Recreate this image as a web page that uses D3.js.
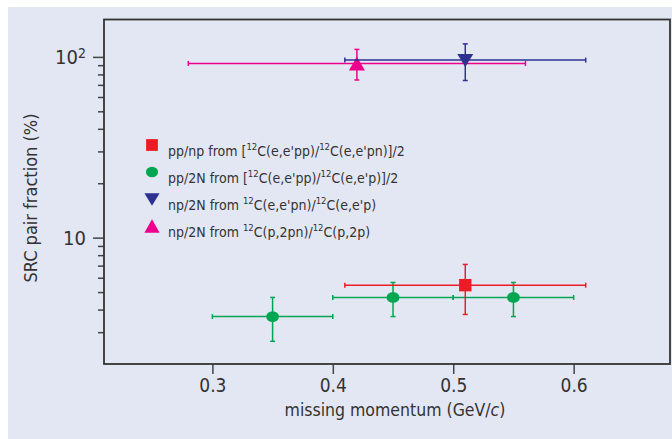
<!DOCTYPE html>
<html>
<head>
<meta charset="utf-8">
<script src="https://cdn.jsdelivr.net/npm/d3@7"></script>
<style>
  body { margin: 0; background: #fff; }
  svg text { font-family: "Liberation Sans Narrow", "DejaVu Sans Condensed", "Liberation Sans", sans-serif; fill: #333; }
</style>
</head>
<body>
<div id="chart"></div>
<script>
// each point: x, y, horizontal range, vertical range
const ppnp = [
    { x: 0.51, y: 5.46, xLo: 0.41, xHi: 0.61, yLo: 3.76, yHi: 7.11 }
];
const pp2n = [
    { x: 0.35, y: 3.66, xLo: 0.30, xHi: 0.40, yLo: 2.67, yHi: 4.67 },
    { x: 0.45, y: 4.67, xLo: 0.40, xHi: 0.50, yLo: 3.66, yHi: 5.65 },
    { x: 0.55, y: 4.67, xLo: 0.50, xHi: 0.60, yLo: 3.66, yHi: 5.65 }
];
const np2nE = [
    { x: 0.51, y: 96, xLo: 0.41, xHi: 0.61, yLo: 74, yHi: 118 }
];
const np2nP = [
    { x: 0.42, y: 92, xLo: 0.28, xHi: 0.56, yLo: 74.5, yHi: 110 }
];

const xTicks = [0.3, 0.4, 0.5, 0.6];
const yMajor = [10, 100];

// legend rows: text pieces, sup = superscript
const legendRows = [
    [["pp/np from [", 0], ["12", 1], ["C(e,e'pp)/", 0], ["12", 1], ["C(e,e'pn)]/2", 0]],
    [["pp/2N from [", 0], ["12", 1], ["C(e,e'pp)/", 0], ["12", 1], ["C(e,e'p)]/2", 0]],
    [["np/2N from ", 0], ["12", 1], ["C(e,e'pn)/", 0], ["12", 1], ["C(e,e'p)", 0]],
    [["np/2N from ", 0], ["12", 1], ["C(p,2pn)/", 0], ["12", 1], ["C(p,2p)", 0]]
];

const width = 672,
      height = 439,
      margin = ({ top: 19.5, right: 2, bottom: 75, left: 104 });

const svg = d3.select("#chart")
    .append("svg")
    .attr("width", width)
    .attr("height", height);

// panel background
svg.append("rect")
    .attr("x", 8).attr("y", 7)
    .attr("width", width - 8).attr("height", height - 7)
    .attr("fill", "#e3e7f3");

const x = d3.scaleLinear()
    .domain([0.21, 0.68])
    .range([margin.left, width - margin.right]);

const y = d3.scaleLog()
    .domain([2, 161])
    .range([height - margin.bottom, margin.top]);

// x axis
const xAxis = svg.append("g")
    .attr("transform", `translate(0,${height - margin.bottom})`)
    .call(d3.axisBottom(x).tickValues(xTicks).tickSize(10).tickPadding(5).tickFormat(d3.format(".1f")));
xAxis.select(".domain").remove();
xAxis.selectAll("line").attr("stroke", "#444").attr("stroke-width", 1.5);
xAxis.selectAll("text").attr("font-size", 19).attr("fill", "#333");

// y axis minor + major ticks
const minor = y.ticks().filter(d => yMajor.indexOf(d) < 0 && d > 2);
const yMinor = svg.append("g")
    .attr("transform", `translate(${margin.left},0)`)
    .call(d3.axisLeft(y).tickValues(minor).tickSize(6).tickFormat(""));
yMinor.select(".domain").remove();
yMinor.selectAll("line").attr("stroke", "#444").attr("stroke-width", 1.5);

const yAx = svg.append("g")
    .attr("transform", `translate(${margin.left},0)`)
    .call(d3.axisLeft(y).tickValues(yMajor).tickSize(11).tickPadding(7).tickFormat(""));
yAx.select(".domain").remove();
yAx.selectAll("line").attr("stroke", "#444").attr("stroke-width", 1.5);

yAx.selectAll(".tick").append("text")
    .attr("x", -18)
    .attr("dy", "0.35em")
    .attr("text-anchor", "end")
    .attr("font-size", 20)
    .attr("fill", "#333")
    .each(function (d) {
        const t = d3.select(this);
        const p = Math.round(Math.log10(d));
        if (p === 1) {
            t.text("10");
        } else {
            t.append("tspan").text("10");
            t.append("tspan").attr("dy", "-0.45em").attr("font-size", 14).text(p);
        }
    });

// frame
svg.append("rect")
    .attr("x", margin.left).attr("y", margin.top)
    .attr("width", width - margin.right - margin.left)
    .attr("height", height - margin.bottom - margin.top)
    .attr("fill", "none")
    .attr("stroke", "#333")
    .attr("stroke-width", 1.8);

// axis titles
svg.append("text")
    .attr("x", 395).attr("y", 416)
    .attr("text-anchor", "middle")
    .attr("font-size", 17.5)
    .call(t => {
        t.append("tspan").text("missing momentum (GeV/");
        t.append("tspan").attr("font-style", "italic").text("c");
        t.append("tspan").text(")");
    });

svg.append("text")
    .attr("transform", "translate(37,198) rotate(-90)")
    .attr("text-anchor", "middle")
    .attr("font-size", 18)
    .text("SRC pair fraction (%)");

// error bars + markers
const groups = [
    { data: ppnp, color: "#ed1c24", shape: "square" },
    { data: pp2n, color: "#00a651", shape: "circle" },
    { data: np2nE, color: "#2e3192", shape: "down" },
    { data: np2nP, color: "#ec008c", shape: "up" }
];

function marker(sel, shape, color) {
    if (shape === "square") {
        sel.append("rect").attr("x", -6.2).attr("y", -6.2).attr("width", 12.4).attr("height", 12.4).attr("fill", color);
    } else if (shape === "circle") {
        sel.append("ellipse").attr("rx", 6.4).attr("ry", 5.4).attr("fill", color);
    } else if (shape === "down") {
        sel.append("path").attr("d", "M-8,-6L8,-6L0,7Z").attr("fill", color);
    } else {
        sel.append("path").attr("d", "M-8,7L8,7L0,-7Z").attr("fill", color);
    }
}

// draw order: triangles first, then the lower points
for (const g of [groups[3], groups[2], groups[1], groups[0]]) {
    const pt = svg.append("g").selectAll("g")
        .data(g.data)
        .join("g");

    pt.append("line")
        .attr("x1", d => x(d.xLo)).attr("x2", d => x(d.xHi))
        .attr("y1", d => y(d.y)).attr("y2", d => y(d.y))
        .attr("stroke", g.color).attr("stroke-width", 1.5);
    pt.append("line")
        .attr("x1", d => x(d.x)).attr("x2", d => x(d.x))
        .attr("y1", d => y(d.yLo)).attr("y2", d => y(d.yHi))
        .attr("stroke", g.color).attr("stroke-width", 1.5);
    // caps
    for (const k of ["xLo", "xHi"]) {
        pt.append("line")
            .attr("x1", d => x(d[k])).attr("x2", d => x(d[k]))
            .attr("y1", d => y(d.y) - 2.5).attr("y2", d => y(d.y) + 2.5)
            .attr("stroke", g.color).attr("stroke-width", 1.5);
    }
    for (const k of ["yLo", "yHi"]) {
        pt.append("line")
            .attr("x1", d => x(d.x) - 2.5).attr("x2", d => x(d.x) + 2.5)
            .attr("y1", d => y(d[k])).attr("y2", d => y(d[k]))
            .attr("stroke", g.color).attr("stroke-width", 1.5);
    }

    pt.append("g")
        .attr("transform", d => `translate(${x(d.x)},${y(d.y)})`)
        .each(function () { marker(d3.select(this), g.shape, g.color); });
}

// legend
const legend = svg.append("g").attr("transform", "translate(152,145)");
const row = legend.selectAll("g")
    .data(legendRows)
    .join("g")
    .attr("transform", (d, i) => `translate(0,${i * 27})`);

row.each(function (d, i) {
    const r = d3.select(this);
    const m = r.append("g");
    marker(m, groups[i].shape, groups[i].color);
    m.attr("transform", "scale(0.95)");
    const t = r.append("text")
        .attr("x", 16)
        .attr("y", 5)
        .attr("font-size", 14);
    d.forEach(([s, sup]) => {
        if (sup) {
            t.append("tspan").attr("dy", -6).attr("font-size", 9.5).text(s);
        } else {
            t.append("tspan").attr("dy", t.selectAll("tspan").size() > 0 ? 6 : 0).text(s);
        }
    });
});
</script>
</body>
</html>
